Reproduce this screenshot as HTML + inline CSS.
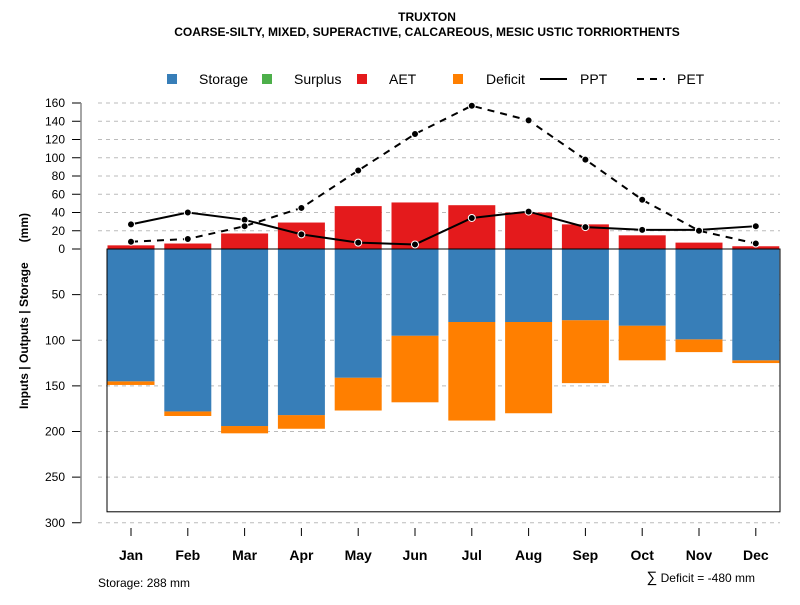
<!DOCTYPE html>
<html><head><meta charset="utf-8"><style>
body{margin:0;background:#fff;}
svg{font-family:"Liberation Sans",Arial,sans-serif;}
</style></head><body>
<svg id="chart" width="800" height="600" xmlns="http://www.w3.org/2000/svg">
<text x="427" y="21" text-anchor="middle" font-size="12" font-weight="bold">TRUXTON</text>
<text x="427" y="36" text-anchor="middle" font-size="12" font-weight="bold">COARSE-SILTY, MIXED, SUPERACTIVE, CALCAREOUS, MESIC USTIC TORRIORTHENTS</text>
<g font-size="14">
<g><rect x="167" y="74" width="10" height="10" fill="#377eb8"/><text x="199" y="84">Storage</text></g>
<g><rect x="262" y="74" width="10" height="10" fill="#4daf4a"/><text x="294" y="84">Surplus</text></g>
<g><rect x="357" y="74" width="10" height="10" fill="#e41a1c"/><text x="389" y="84">AET</text></g>
<g><rect x="453" y="74" width="10" height="10" fill="#ff7f00"/><text x="486" y="84">Deficit</text></g>
<g><line x1="540" y1="79" x2="567" y2="79" stroke="#000" stroke-width="2"/><text x="580" y="84">PPT</text></g>
<g><line x1="637" y1="79" x2="665" y2="79" stroke="#000" stroke-width="2" stroke-dasharray="7,6"/><text x="677" y="84">PET</text></g>
</g>
<text transform="translate(28,311) rotate(-90)" text-anchor="middle" font-size="12" font-weight="bold" style="white-space:pre">Inputs | Outputs | Storage      (mm)</text>
<g id="grid"></g><g id="bars"></g><g id="lines"></g><g id="axes"></g>
<text x="98" y="587" font-size="12">Storage: 288 mm</text>
<text x="755" y="582" text-anchor="end" font-size="12"><tspan font-size="15">∑</tspan> Deficit = -480 mm</text>
</svg>
<script>
const months=["Jan","Feb","Mar","Apr","May","Jun","Jul","Aug","Sep","Oct","Nov","Dec"];
const aet=[4,6,17,29,47,51,48,40,27,15,7,3];
const storage=[145,178,194,182,141,95,80,80,78,84,99,122];
const deficit=[4,5,8,15,36,73,108,100,69,38,14,3];
const ppt=[27,40,32,16,7,5,34,41,24,21,21,25];
const pet=[8,11,25,45,86,126,157,141,98,54,20,6];
const posTicks=[0,20,40,60,80,100,120,140,160];
const negTicks=[50,100,150,200,250,300];
const storageMax=288;
const NS="http://www.w3.org/2000/svg";
const y0=249,k=0.9125;
const yPos=v=>y0-v*k, yNeg=v=>y0+v*k;
const xC=i=>131+i*56.8;
const bw=47;
function mk(t,a,p){const e=document.createElementNS(NS,t);for(const q in a)e.setAttribute(q,a[q]);p.appendChild(e);return e;}
const grid=document.getElementById('grid'),bars=document.getElementById('bars'),lines=document.getElementById('lines'),axes=document.getElementById('axes');
posTicks.concat(negTicks.map(v=>-v)).forEach(v=>{
 const y=v>=0?yPos(v):yNeg(-v);
 if(v!==0){const g=mk('line',{x1:98,x2:780,y1:y,y2:y,stroke:'#bbb','stroke-dasharray':'4,4'},grid);
 
 }
 const t=mk('line',{x1:72,x2:81,y1:y,y2:y,stroke:'#000'},axes);
 
 
 const l=mk('text',{x:65,y:y+4,'text-anchor':'end','font-size':12},axes);l.textContent=Math.abs(v);
 
 
});
const ax=mk('line',{x1:81,x2:81,y1:yPos(160),y2:yNeg(300),stroke:'#888','stroke-width':1.5},axes);


const box=mk('rect',{x:107,y:y0,width:673,height:storageMax*k,fill:'none',stroke:'#000'},bars);


months.forEach((m,i)=>{
 const x=xC(i)-bw/2;
 const d=mk('rect',{x:x,y:yNeg(storage[i]),width:bw,height:deficit[i]*k,fill:'#ff7f00'},bars);
 
 
 const s=mk('rect',{x:x,y:y0,width:bw,height:storage[i]*k,fill:'#377eb8'},bars);
 
 
 const a=mk('rect',{x:x,y:yPos(aet[i]),width:bw,height:aet[i]*k,fill:'#e41a1c'},bars);
 
 
 const tk=mk('line',{x1:xC(i),x2:xC(i),y1:528,y2:536,stroke:'#000'},axes);
 
 
 const lb=mk('text',{x:xC(i),y:560,'text-anchor':'middle','font-size':14,'font-weight':'bold'},axes);lb.textContent=m;
 
 
});
const zl=mk('line',{x1:107,x2:780,y1:y0,y2:y0,stroke:'#000'},bars);


[[ppt,'ppt',''],[pet,'pet','7,6']].forEach(([arr,n,da])=>{
 const p=mk('polyline',{points:arr.map((v,i)=>xC(i)+','+yPos(v)).join(' '),fill:'none',stroke:'#000','stroke-width':2,'stroke-dasharray':da},lines);
 
 
 arr.forEach((v,i)=>{
  const c=mk('circle',{cx:xC(i),cy:yPos(v),r:3.5,fill:'#000',stroke:'#fff','stroke-width':1},lines);
  
  
 });
});
</script>
</body></html>
